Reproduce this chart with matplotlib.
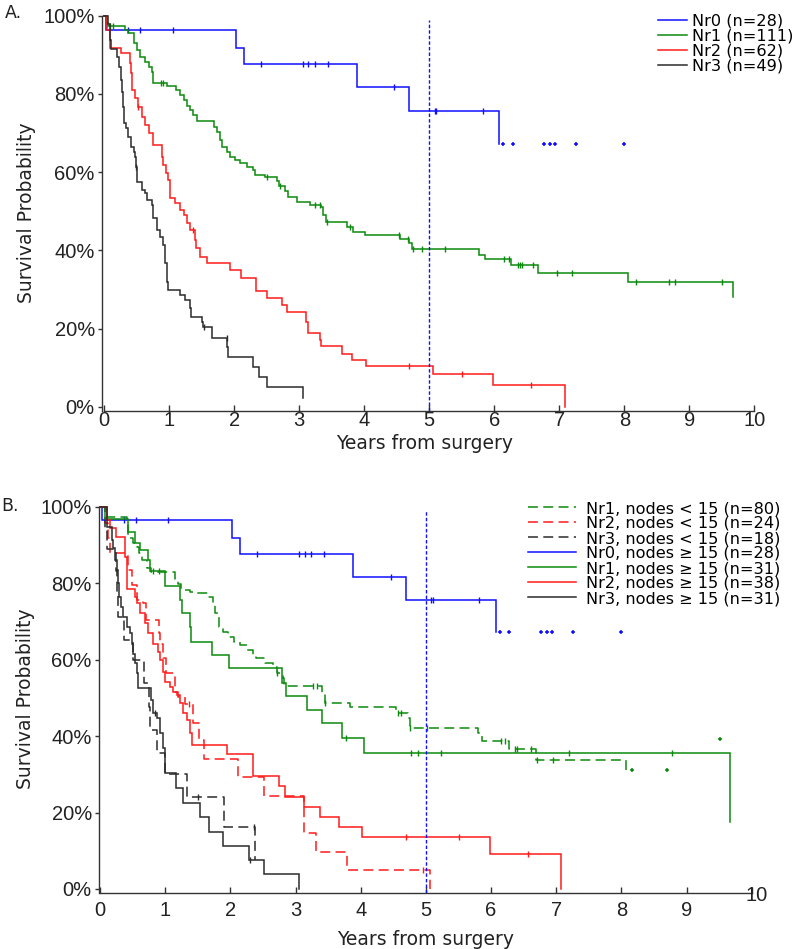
import numpy as np
import matplotlib
matplotlib.use('Agg')
import matplotlib.pyplot as plt
from matplotlib.ticker import PercentFormatter

# ---- Panel A: Kaplan-Meier curves (event times in years, survival in %) ----
a_nr0_t = [0.03, 2.02, 2.15, 3.88, 4.69, 6.07]
a_nr0_s = [96.4, 91.8, 87.6, 81.7, 75.6, 67.1]
a_nr0_c = [0.37, 0.55, 1.05, 2.41, 3.05, 3.14, 3.24, 3.44, 4.46, 5.08, 5.11, 5.82,
           6.14, 6.28, 6.77, 6.86, 6.93, 7.26, 8.0]

a_nr1_t = [0.02, 0.05, 0.32, 0.37, 0.45, 0.50, 0.55, 0.63, 0.68, 0.73, 0.75, 0.96,
           1.11, 1.16, 1.22, 1.27, 1.32, 1.37, 1.42, 1.68, 1.73, 1.78, 1.81, 1.88,
           1.93, 2.01, 2.09, 2.19, 2.29, 2.32, 2.47, 2.65, 2.69, 2.78, 2.83, 2.96,
           3.17, 3.34, 3.37, 3.41, 3.73, 3.83, 4.01, 4.55, 4.68, 4.73, 5.76, 5.86,
           6.26, 6.67, 8.05, 9.67]
a_nr1_s = [98.2, 97.3, 96.3, 95.5, 92.9, 91.2, 89.5, 88.2, 87.0, 85.7, 82.9, 82.0,
           81.0, 79.7, 78.4, 76.9, 75.9, 74.6, 73.1, 71.6, 70.3, 68.2, 66.5, 65.2,
           63.9, 63.1, 62.2, 61.4, 60.5, 59.2, 58.7, 57.8, 56.4, 55.2, 53.7, 52.4,
           51.6, 51.2, 49.0, 47.2, 46.0, 44.8, 43.9, 42.8, 41.9, 40.3, 38.8, 37.7,
           36.2, 34.1, 31.8, 28.0]
a_nr1_c = [0.08, 0.14, 0.87, 0.91, 2.50, 2.70, 3.24, 3.32, 3.43, 3.78, 4.53, 4.67,
           4.75, 4.88, 5.24, 6.15, 6.23, 6.36, 6.40, 6.42, 6.59, 6.96, 7.19, 8.18,
           8.69, 8.78, 9.50]

a_nr2_t = [0.04, 0.09, 0.26, 0.40, 0.41, 0.42, 0.47, 0.52, 0.58, 0.63, 0.68, 0.75,
           0.88, 0.91, 0.95, 0.98, 1.01, 1.09, 1.16, 1.22, 1.27, 1.32, 1.40, 1.41,
           1.47, 1.58, 1.93, 2.10, 2.33, 2.50, 2.74, 2.81, 3.11, 3.14, 3.32, 3.34,
           3.65, 3.81, 4.02, 5.06, 5.98, 7.09]
a_nr2_s = [96.3, 91.7, 90.4, 87.8, 85.3, 81.0, 78.9, 76.7, 74.2, 72.0, 69.9, 66.9,
           63.9, 61.8, 59.7, 58.0, 53.3, 52.0, 50.3, 49.0, 46.9, 45.2, 42.6, 40.5,
           38.4, 36.7, 35.0, 32.8, 29.7, 27.7, 26.0, 24.3, 21.7, 18.8, 17.1, 15.6,
           13.6, 11.9, 10.5, 8.4, 5.5, 0.0]
a_nr2_c = [0.52, 1.37, 4.69, 5.51, 6.56]

a_nr3_t = [0.06, 0.09, 0.11, 0.20, 0.23, 0.25, 0.27, 0.29, 0.30, 0.34, 0.37, 0.41,
           0.45, 0.47, 0.49, 0.50, 0.58, 0.63, 0.65, 0.73, 0.75, 0.81, 0.86, 0.91,
           0.94, 0.96, 0.98, 1.16, 1.24, 1.32, 1.34, 1.51, 1.52, 1.66, 1.89, 1.91,
           2.28, 2.38, 2.50, 3.05]
a_nr3_s = [98.0, 93.8, 91.6, 89.5, 87.0, 83.6, 80.6, 76.7, 72.5, 71.2, 69.1, 66.5,
           65.2, 63.9, 61.4, 57.5, 55.4, 54.6, 52.9, 51.6, 48.2, 45.2, 43.5, 41.4,
           36.7, 32.0, 29.8, 28.6, 27.3, 25.2, 23.0, 21.7, 20.5, 17.7, 15.3, 12.8,
           10.2, 7.5, 5.0, 2.1]
a_nr3_c = [0.49, 1.53, 1.88]

# ---- Panel B: split by number of examined nodes ----
b_nr1_lo_t = [0.10, 0.41, 0.43, 0.51, 0.56, 0.60, 0.64, 0.72, 0.79, 1.15, 1.20, 1.25,
              1.38, 1.48, 1.66, 1.74, 1.76, 1.82, 1.89, 1.97, 2.05, 2.15, 2.25, 2.35,
              2.40, 2.53, 2.66, 2.71, 2.81, 2.83, 3.40, 3.45, 3.84, 4.54, 4.73, 4.75,
              5.80, 5.86, 6.28, 6.69, 8.07]
b_nr1_lo_s = [97.4, 96.5, 91.7, 90.4, 89.5, 87.8, 86.1, 83.9, 83.0, 81.2, 79.9, 78.2,
              77.8, 77.3, 76.5, 74.7, 72.1, 68.6, 67.3, 66.0, 64.7, 63.8, 62.5, 61.2,
              60.3, 59.0, 58.1, 56.4, 55.1, 53.1, 51.2, 48.7, 47.5, 46.0, 44.6, 42.2,
              40.7, 38.7, 36.5, 33.7, 31.1]
b_nr1_lo_c = [2.71, 3.27, 3.33, 3.46, 4.57, 4.62, 4.76, 5.02, 6.16, 6.21, 6.37, 6.40,
              6.62, 6.70, 6.95, 8.17, 8.70]
b_stray_t = [9.51]
b_stray_s = [39.2]

b_nr2_lo_t = [0.08, 0.12, 0.15, 0.43, 0.49, 0.56, 0.66, 0.70, 0.90, 0.92, 0.96, 1.02,
              1.15, 1.20, 1.30, 1.42, 1.52, 1.59, 2.12, 2.52, 3.13, 3.31, 3.79, 5.07]
b_nr2_lo_s = [95.8, 91.7, 87.8, 83.4, 79.5, 75.6, 74.7, 70.4, 66.9, 64.2, 60.5, 56.4,
              51.6, 50.3, 48.4, 43.5, 39.0, 33.9, 29.2, 24.3, 14.6, 9.8, 5.0, 0.0]
b_nr2_lo_c = [1.36, 4.95]

b_nr3_lo_t = [0.08, 0.10, 0.24, 0.26, 0.28, 0.37, 0.51, 0.67, 0.75, 0.77, 0.87, 0.99,
              1.34, 1.90, 2.38]
b_nr3_lo_s = [94.4, 88.9, 83.3, 77.8, 71.2, 65.1, 59.9, 54.0, 47.7, 41.6, 35.7, 30.1,
              24.0, 16.1, 7.6]
b_nr3_lo_c = [1.50, 2.36]

b_nr1_hi_t = [0.08, 0.43, 0.54, 0.61, 0.74, 0.77, 1.00, 1.23, 1.26, 1.38, 1.39, 1.72,
              1.98, 2.80, 2.85, 3.17, 3.41, 3.72, 4.05, 9.67]
b_nr1_hi_s = [96.8, 93.5, 90.4, 88.7, 86.1, 83.3, 79.3, 75.6, 72.1, 68.6, 64.7, 61.2,
              57.7, 54.0, 50.5, 46.8, 43.3, 39.4, 35.7, 17.6]
b_nr1_hi_c = [0.82, 0.90, 3.78, 4.77, 4.88, 5.24, 7.19, 8.77]

b_nr2_hi_t = [0.10, 0.15, 0.24, 0.38, 0.39, 0.41, 0.42, 0.54, 0.56, 0.61, 0.69, 0.74,
              0.82, 0.89, 0.92, 0.97, 1.00, 1.07, 1.12, 1.18, 1.23, 1.28, 1.33, 1.38,
              1.41, 1.95, 2.34, 2.75, 2.84, 3.13, 3.37, 3.67, 4.02, 5.98, 7.08]
b_nr2_hi_s = [96.5, 94.3, 92.2, 90.4, 86.9, 83.4, 78.4, 76.5, 74.7, 72.1, 69.5, 66.9,
              64.2, 62.1, 59.9, 56.8, 54.2, 52.9, 51.6, 50.7, 48.6, 46.0, 44.2, 40.7,
              37.7, 35.3, 29.6, 26.9, 24.1, 21.5, 18.9, 16.3, 13.5, 9.2, 0.0]
b_nr2_hi_c = [4.70, 5.51, 6.57]

b_nr3_hi_t = [0.10, 0.18, 0.20, 0.23, 0.26, 0.28, 0.29, 0.32, 0.36, 0.41, 0.46, 0.49,
              0.51, 0.54, 0.56, 0.59, 0.78, 0.82, 0.87, 0.92, 0.97, 0.99, 1.00, 1.17,
              1.27, 1.53, 1.68, 1.88, 2.29, 2.52, 3.05]
b_nr3_hi_s = [94.8, 91.3, 89.1, 86.1, 83.4, 80.0, 76.5, 73.8, 71.2, 68.6, 66.9, 64.2,
              61.6, 59.0, 56.4, 52.5, 49.4, 46.0, 44.6, 40.7, 36.8, 32.9, 30.3, 26.3,
              22.6, 18.8, 15.0, 11.3, 7.6, 3.9, 0.0]
b_nr3_hi_c = [0.85, 2.30]

x_ticks = list(range(11))
x_labels_a = [str(v) for v in x_ticks]
x_labels_b = [str(v) for v in x_ticks[:-1]] + ['']
y_ticks = [0, 0.2, 0.4, 0.6, 0.8, 1.0]

BLUE = '#1010ff'
GREEN = '#0a8a0a'
RED = '#ff1a1a'
BLACK = '#2b2b2b'
DASH = (6.5, 3.5)

plt.rcParams['font.family'] = 'DejaVu Sans'


def km(ax, t, s, cens, color, dashed, label):
    t = np.asarray(t, float)
    s = np.asarray(s, float) / 100.0
    x = np.r_[0.0, t]
    y = np.r_[1.0, s]
    line, = ax.step(x, y, where='post', color=color, lw=1.1, label=label,
                    clip_on=False, solid_joinstyle='miter')
    if dashed:
        line.set_dashes(DASH)
    c = np.asarray(cens, float)
    if len(c):
        idx = np.searchsorted(t, c, side='right') - 1
        cy = np.where(idx >= 0, s[np.clip(idx, 0, None)], 1.0)
        on = c <= t[-1]
        ax.plot(c[on], cy[on], ls='none', marker='|', ms=5, mew=1.0, color=color,
                clip_on=False)
        ax.plot(c[~on], cy[~on], ls='none', marker='+', ms=3.5, mew=1.1, color=color,
                clip_on=False)
    return line


def style(ax, labels, pad_x):
    for side in ['top', 'right']:
        ax.spines[side].set_visible(False)
    for side in ['left', 'bottom']:
        ax.spines[side].set_color('#333333')
        ax.spines[side].set_linewidth(1.0)
    ax.spines['bottom'].set_bounds(0, 10)
    ax.spines['left'].set_bounds(ax.get_ylim()[0], 1.0)
    ax.set_xticks(x_ticks)
    ax.set_xticklabels(labels)
    ax.set_yticks(y_ticks)
    ax.yaxis.set_major_formatter(PercentFormatter(1.0, decimals=0))
    ax.tick_params(labelfontfamily='Liberation Sans', labelsize=14.5)
    ax.tick_params(axis='y', direction='out', length=3, width=1, pad=2,
                   color='#333333', labelcolor='#222222')
    ax.tick_params(axis='x', direction='in', length=4, width=1, pad=pad_x,
                   color='#333333', labelcolor='#222222')
    ax.vlines(5, ax.get_ylim()[0], 0.99, colors=BLUE, lw=1.0,
              linestyles=(0, (2.5, 1.5)), zorder=3)


fig = plt.figure(figsize=(8.0, 9.49), dpi=100)

# ---------- panel A ----------
ax1 = fig.add_axes([0.12713, 0.56723, 0.81575, 0.41829])
ax1.set_xlim(-0.04, 10.0)
ax1.set_ylim(-0.0102, 1.005)
h0 = km(ax1, a_nr0_t, a_nr0_s, a_nr0_c, BLUE, False, 'Nr0 (n=28)')
h1 = km(ax1, a_nr1_t, a_nr1_s, a_nr1_c, GREEN, False, 'Nr1 (n=111)')
h2 = km(ax1, a_nr2_t, a_nr2_s, a_nr2_c, RED, False, 'Nr2 (n=62)')
h3 = km(ax1, a_nr3_t, a_nr3_s, a_nr3_c, BLACK, False, 'Nr3 (n=49)')
style(ax1, x_labels_a, 0.5)
ax1.set_xlabel('Years from surgery', fontsize=13.5, color='#222222')
ax1.xaxis.set_label_coords(0.495, -0.058)
ax1.set_ylabel('Survival Probability', fontsize=13.5, color='#222222')
ax1.yaxis.set_label_coords(-0.10, 0.5)
fig.legend(handles=[h0, h1, h2, h3], loc='upper left',
           bbox_to_anchor=(658 / 800, 1 - 13.5 / 949), frameon=False,
           fontsize=11.6, borderpad=0, labelspacing=0.0, handlelength=1.8,
           handletextpad=0.3, borderaxespad=0)
fig.text(5 / 800, 1 - 13 / 949, 'A.', fontsize=12.5, va='center', ha='left',
         color='#222222')

# ---------- panel B ----------
ax2 = fig.add_axes([0.12338, 0.05933, 0.81625, 0.40875])
ax2.set_xlim(-0.02, 10.0)
ax2.set_ylim(-0.0097, 1.005)
g1 = km(ax2, b_nr1_lo_t, b_nr1_lo_s, b_nr1_lo_c, GREEN, True, 'Nr1, nodes < 15 (n=80)')
ax2.plot(b_stray_t, np.asarray(b_stray_s) / 100.0, ls='none', marker='+', ms=3.5,
         mew=1.1, color=GREEN)
g2 = km(ax2, b_nr2_lo_t, b_nr2_lo_s, b_nr2_lo_c, RED, True, 'Nr2, nodes < 15 (n=24)')
g3 = km(ax2, b_nr3_lo_t, b_nr3_lo_s, b_nr3_lo_c, BLACK, True, 'Nr3, nodes < 15 (n=18)')
g0 = km(ax2, a_nr0_t, a_nr0_s, a_nr0_c, BLUE, False, 'Nr0, nodes \u2265 15 (n=28)')
g4 = km(ax2, b_nr1_hi_t, b_nr1_hi_s, b_nr1_hi_c, GREEN, False, 'Nr1, nodes \u2265 15 (n=31)')
g5 = km(ax2, b_nr2_hi_t, b_nr2_hi_s, b_nr2_hi_c, RED, False, 'Nr2, nodes \u2265 15 (n=38)')
g6 = km(ax2, b_nr3_hi_t, b_nr3_hi_s, b_nr3_hi_c, BLACK, False, 'Nr3, nodes \u2265 15 (n=31)')
style(ax2, x_labels_b, 6)
ax2.text(10.08, -0.017, '10', fontfamily='Liberation Sans', fontsize=14.5,
         ha='center', va='center', color='#222222', clip_on=False)
ax2.set_xlabel('Years from surgery', fontsize=13.5, color='#222222')
ax2.xaxis.set_label_coords(0.50, -0.096)
ax2.set_ylabel('Survival Probability', fontsize=13.5, color='#222222')
ax2.yaxis.set_label_coords(-0.098, 0.5)
fig.legend(handles=[g1, g2, g3, g0, g4, g5, g6], loc='upper left',
           bbox_to_anchor=(528 / 800, 1 - 501 / 949), frameon=False,
           fontsize=11.6, borderpad=0, labelspacing=0.0, handlelength=3.0,
           handletextpad=0.6, borderaxespad=0)
fig.text(1 / 800, 1 - 505.5 / 949, 'B.', fontsize=12.5, va='center', ha='left',
         color='#222222')

fig.savefig('out.png', dpi=100)
